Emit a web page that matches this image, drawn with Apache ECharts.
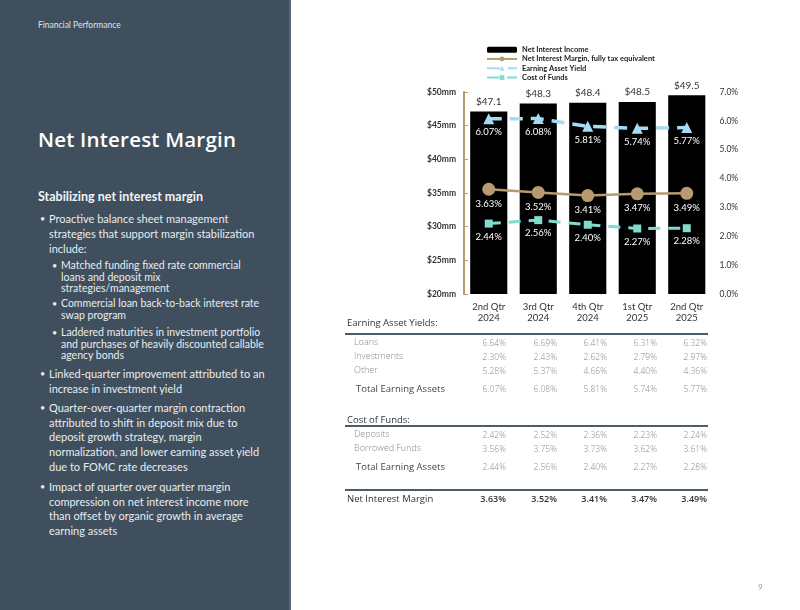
<!DOCTYPE html>
<html>
<head>
<meta charset="utf-8">
<script src="https://cdn.jsdelivr.net/npm/echarts@6/dist/echarts.min.js"></script>
<style>
  html, body { margin:0; padding:0; width:800px; height:610px; overflow:hidden; background:#fff; }
  #chart { position:absolute; left:0; top:0; width:800px; height:610px; }
  #panel { position:absolute; left:0; top:0; width:289px; height:610px; background:#3f4f5d; border-right:2px solid #56677a; z-index:2; font-family:'Lato','Open Sans',sans-serif; color:#e9edf0; }
  .abs { position:absolute; white-space:nowrap; }
  .bul { position:absolute; left:49px; font-size:11px; line-height:15px; white-space:nowrap; }
  .bul:before { content:'•'; position:absolute; left:-9px; top:0; font-size:9px; }
  .sub { position:absolute; left:61px; font-size:10.5px; line-height:11.5px; white-space:nowrap; }
  .sub:before { content:'•'; position:absolute; left:-9px; top:0; font-size:9px; }
  #table { position:absolute; left:0; top:0; width:800px; height:610px; z-index:2; pointer-events:none; font-family:'Open Sans','Lato',sans-serif; }
  .cell { position:absolute; height:14px; line-height:14px; white-space:nowrap; }
  .hr { position:absolute; left:345px; width:363px; background:#4d5c6b; }
</style>
</head>
<body>
<div id="chart"></div>
<div id="panel">
  <div class="abs" style="left:38px; top:20px; font-size:8.5px; color:#dfe4e8;">Financial Performance</div>
  <div class="abs" style="left:38px; top:125px; font-size:20.5px; color:#ffffff; font-family:'Open Sans',sans-serif; font-weight:600; letter-spacing:0.2px;">Net Interest Margin</div>
  <div class="abs" style="left:38px; top:189px; font-size:12.5px; font-weight:bold; color:#f2f4f6;">Stabilizing net interest margin</div>
  <div class="bul" style="top:211px;">Proactive balance sheet management<br>strategies that support margin stabilization<br>include:</div>
  <div class="sub" style="top:260px;">Matched funding fixed rate commercial<br>loans and deposit mix<br>strategies/management</div>
  <div class="sub" style="top:298px;">Commercial loan back-to-back interest rate<br>swap program</div>
  <div class="sub" style="top:327px;">Laddered maturities in investment portfolio<br>and purchases of heavily discounted callable<br>agency bonds</div>
  <div class="bul" style="top:367px; line-height:14.7px;">Linked-quarter improvement attributed to an<br>increase in investment yield</div>
  <div class="bul" style="top:401px; line-height:14.7px;">Quarter-over-quarter margin contraction<br>attributed to shift in deposit mix due to<br>deposit growth strategy, margin<br>normalization, and lower earning asset yield<br>due to FOMC rate decreases</div>
  <div class="bul" style="top:480px; line-height:14.7px;">Impact of quarter over quarter margin<br>compression on net interest income more<br>than offset by organic growth in average<br>earning assets</div>
</div>
<div id="table"></div>
<div class="abs" style="left:758px; top:582px; font-size:8px; color:#999; font-family:'Lato',sans-serif; z-index:2;">9</div>
<script>
// ---- data ----
const categories = ['2nd Qtr\n2024', '3rd Qtr\n2024', '4th Qtr\n2024', '1st Qtr\n2025', '2nd Qtr\n2025'];
const netInterestIncome = [47.1, 48.3, 48.4, 48.5, 49.5];
const netInterestMargin = [3.63, 3.52, 3.41, 3.47, 3.49];
const earningAssetYield = [6.07, 6.08, 5.81, 5.74, 5.77];
const costOfFunds = [2.44, 2.56, 2.40, 2.27, 2.28];
const loansYield = [6.64, 6.69, 6.41, 6.31, 6.32];
const investmentsYield = [2.30, 2.43, 2.62, 2.79, 2.97];
const otherYield = [5.28, 5.37, 4.66, 4.40, 4.36];
const depositsCost = [2.42, 2.52, 2.36, 2.23, 2.24];
const borrowedFundsCost = [3.56, 3.75, 3.73, 3.62, 3.61];
const seriesNames = ['Net Interest Income', 'Net Interest Margin, fully tax equivalent', 'Earning Asset Yield', 'Cost of Funds'];

// ---- table ----
const colRight = [506, 557, 607, 657, 707];
const tbl = document.getElementById('table');
function cell(text, x, yc, style, right) {
  const d = document.createElement('div');
  d.className = 'cell';
  d.textContent = text;
  d.style.top = (yc - 7) + 'px';
  if (right) { d.style.left = (x - 60) + 'px'; d.style.width = '60px'; d.style.textAlign = 'right'; }
  else d.style.left = x + 'px';
  Object.assign(d.style, style);
  tbl.appendChild(d);
}
function hr(y, h) { const d = document.createElement('div'); d.className = 'hr'; d.style.top = y + 'px'; d.style.height = h + 'px'; tbl.appendChild(d); }
const pct = v => v.toFixed(2) + '%';
const hdr = { fontSize: '9.5px', color: '#333' };
const sub = { fontSize: '9px', color: '#8a8a8a', fontWeight: '300' };
const tot = { fontSize: '9.5px', color: '#444' };
const val = { fontSize: '8.5px', color: '#8a8a8a', fontWeight: '300' };
function row(label, data, yLab, yVal, lx, ls, vs) {
  cell(label, lx, yLab, ls, false);
  data.forEach((v, i) => cell(pct(v), colRight[i], yVal, vs, true));
}
cell('Earning Asset Yields:', 347, 323, hdr, false);
hr(333, 2);
row('Loans', loansYield, 342, 343, 354, sub, val);
row('Investments', investmentsYield, 356, 357, 354, sub, val);
row('Other', otherYield, 370, 371, 354, sub, val);
row('Total Earning Assets', earningAssetYield, 389, 389, 356, tot, val);
cell('Cost of Funds:', 347, 420, hdr, false);
hr(425, 1.5);
row('Deposits', depositsCost, 434, 435, 354, sub, val);
row('Borrowed Funds', borrowedFundsCost, 448, 449, 354, sub, val);
row('Total Earning Assets', costOfFunds, 467, 467, 356, tot, val);
hr(489, 1.5);
row('Net Interest Margin', netInterestMargin, 499, 499, 347, { fontSize: '9.5px', color: '#333' }, { fontSize: '9px', color: '#333', fontWeight: '600' });

// ---- chart ----
const chart = echarts.init(document.getElementById('chart'), null, { renderer: 'canvas' });
const gold = '#b79a6f';
const font = 'Lato, sans-serif';
chart.setOption({
  animation: false,
  textStyle: { fontFamily: font },
  legend: {
    orient: 'vertical', left: 486, top: 45, itemGap: 0, itemWidth: 30, itemHeight: 6, padding: 0,
    textStyle: { fontSize: 7.5, lineHeight: 9.3, fontWeight: 'bold', color: '#222', fontFamily: font },
    data: seriesNames
  },
  grid: { left: 464, top: 92, width: 247.5, height: 202, outerBoundsMode: 'none' },
  xAxis: {
    type: 'category', data: categories,
    axisLine: { show: false }, axisTick: { show: false },
    axisLabel: { color: '#333', fontSize: 9.5, lineHeight: 11, margin: 7, fontFamily: font }
  },
  yAxis: [
    { type: 'value', min: 20, max: 50, interval: 5,
      axisLine: { show: true, lineStyle: { color: gold, width: 2 } },
      axisTick: { show: true, inside: true, length: 4, lineStyle: { color: gold, width: 1 } },
      splitLine: { show: false },
      axisLabel: { formatter: v => '$' + v + 'mm', color: '#333', fontSize: 8.5, fontWeight: 'bold', margin: 8, fontFamily: font } },
    { type: 'value', min: 0, max: 7, interval: 1, position: 'right',
      axisLine: { show: false }, axisTick: { show: false }, splitLine: { show: false },
      axisLabel: { formatter: v => v.toFixed(1) + '%', color: '#333', fontSize: 8.5, margin: 8, fontFamily: font } }
  ],
  series: [
    { name: seriesNames[0], type: 'bar', yAxisIndex: 0, data: netInterestIncome, barWidth: '75%',
      itemStyle: { color: '#000' },
      label: { show: true, position: 'top', distance: 5, formatter: p => '$' + p.value.toFixed(1), color: '#333', fontSize: 10, fontFamily: font } },
    { name: seriesNames[1], type: 'line', yAxisIndex: 1, data: netInterestMargin,
      symbol: 'circle', symbolSize: 13, z: 4,
      lineStyle: { color: gold, width: 2.5 }, itemStyle: { color: gold },
      label: { show: true, position: 'bottom', distance: 3, formatter: p => p.value.toFixed(2) + '%', color: '#fff', fontSize: 9.5, fontFamily: font } },
    { name: seriesNames[2], type: 'line', yAxisIndex: 1, data: earningAssetYield,
      symbol: 'triangle', symbolSize: 11, z: 3,
      lineStyle: { color: '#a5dcf5', width: 3.5, type: [13, 8] }, itemStyle: { color: '#a5dcf5' },
      label: { show: true, position: 'bottom', distance: 3, formatter: p => p.value.toFixed(2) + '%', color: '#fff', fontSize: 9.5, fontFamily: font } },
    { name: seriesNames[3], type: 'line', yAxisIndex: 1, data: costOfFunds,
      symbol: 'rect', symbolSize: 8, z: 3,
      lineStyle: { color: '#80dccf', width: 3, type: [12, 8] }, itemStyle: { color: '#80dccf' },
      label: { show: true, position: 'bottom', distance: 4, formatter: p => p.value.toFixed(2) + '%', color: '#fff', fontSize: 9.5, fontFamily: font } }
  ]
});
</script>
</body>
</html>
